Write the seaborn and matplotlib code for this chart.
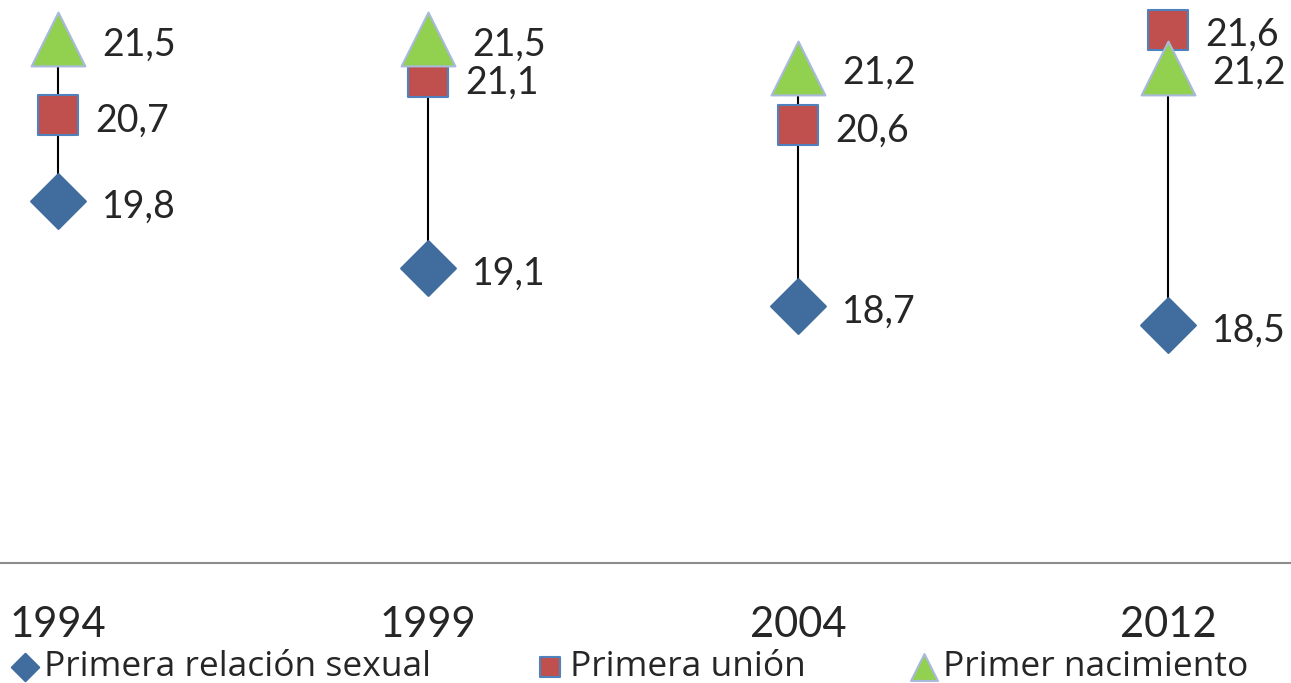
import pandas as pd
import numpy as np
import matplotlib
matplotlib.use("Agg")
import matplotlib.pyplot as plt
import seaborn as sns

# ---------- Data ----------
years = ["1994", "1999", "2004", "2012"]
series = ["Primera relación sexual", "Primera unión", "Primer nacimiento"]
sexual = [19.8, 19.1, 18.7, 18.5]
union = [20.7, 21.1, 20.6, 21.6]
birth = [21.5, 21.5, 21.2, 21.2]

rows = []
for name, vals in zip(series, [sexual, union, birth]):
    for y, v in zip(years, vals):
        rows.append({"year": y, "serie": name, "value": v})
df = pd.DataFrame(rows)

sns.set_style("white")
plt.rcParams["font.family"] = ["Open Sans", "DejaVu Sans"]

styles = {
    "Primera relación sexual": dict(marker="D", s=780, color="#416C9E", edgecolor="#416C9E", off=32),
    "Primera unión": dict(marker="s", s=830, color="#C0504D", edgecolor="#4F81BD", off=27),
    "Primer nacimiento": dict(marker="^", s=1500, color="#92D050", edgecolor="#A9B9DC", off=32),
}

fig = plt.figure(figsize=(12.91, 6.83), dpi=100)
ax = fig.add_axes([0, 1 - 563 / 683, 1, 563 / 683])

# vertical high-low lines
sns.lineplot(data=df, x="year", y="value", units="year", estimator=None, sort=False,
             color="black", linewidth=1.5, ax=ax, legend=False, zorder=1)

for name in series:
    st = styles[name]
    sub = df[df["serie"] == name]
    sns.scatterplot(data=sub, x="year", y="value", marker=st["marker"], s=st["s"],
                    color=st["color"], edgecolor=st["edgecolor"], linewidth=1.5,
                    ax=ax, label=name, zorder=3)
    for i, v in enumerate(sub["value"]):
        ax.annotate(f"{v:.1f}".replace(".", ","), (i, v), xytext=(st["off"], -4),
                    textcoords="offset points", va="center", ha="left",
                    fontsize=27, family=["Lato", "DejaVu Sans"])

ax.set_xlim(-58 / 370, 3 + 123 / 370)
ax.set_ylim(16, 21.91)
ax.set_xlabel("")
ax.set_ylabel("")
ax.set_yticks([])
ax.tick_params(axis="x", length=0, pad=31, labelsize=30)
for lab in ax.get_xticklabels():
    lab.set_family(["Lato", "DejaVu Sans"])
for side in ["top", "right", "left"]:
    ax.spines[side].set_visible(False)
ax.spines["bottom"].set_color("#8C8C8C")
ax.spines["bottom"].set_linewidth(1.5)

ax.get_legend().remove()
handles, labels = ax.get_legend_handles_labels()
fig.legend(handles, labels, loc="lower left", bbox_to_anchor=(-0.004, -0.022), ncol=3,
           frameon=False, fontsize=25.5, markerscale=0.5, handletextpad=0.1,
           columnspacing=2.9, handlelength=0.9, borderaxespad=0)

fig.savefig("out.png", dpi=100)
